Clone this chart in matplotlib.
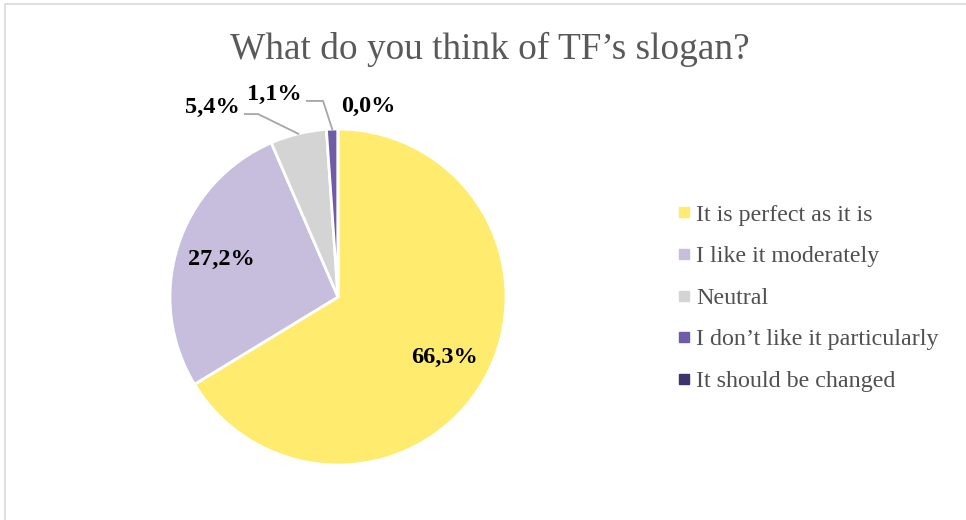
import numpy as np
import matplotlib
matplotlib.use("Agg")
from matplotlib import pyplot as plt
from matplotlib.lines import Line2D
from matplotlib.patches import Rectangle

categories = [
    "It is perfect as it is",
    "I like it moderately",
    "Neutral",
    "I don\u2019t like it particularly",
    "It should be changed",
]
shares = [66.3, 27.2, 5.4, 1.1, 0.0]
colors = ["#FFEC6E", "#C7BEDE", "#D4D4D4", "#6F5BA8", "#3E336E"]

plt.rcParams["font.family"] = ["Liberation Serif", "DejaVu Serif"]

fig = plt.figure(figsize=(9.66, 5.2), dpi=100)

# chart area frame
fig.patches.append(Rectangle((4.5 / 966, -0.1), 1.1, 1.1 - 4.5 / 520,
                             transform=fig.transFigure, fill=False,
                             edgecolor="#D9D9D9", linewidth=1.2))

fig.text(0.507, 0.905, "What do you think of TF\u2019s slogan?", ha="center",
         va="center", fontsize=26.8, color="#595959")

# pie area: centre (338, 297) px, radius 168 px
cx, cy, r = 338, 297, 168
ax = fig.add_axes([(cx - r) / 966, (520 - cy - r) / 520, 2 * r / 966, 2 * r / 520])
wedges, _ = ax.pie(shares, colors=colors, startangle=90, counterclock=False,
                   radius=1, wedgeprops=dict(edgecolor="white", linewidth=2))
ax.set_xlim(-1, 1)
ax.set_ylim(-1, 1)
ax.set_aspect("equal")
ax.axis("off")


def mid_angle(w):
    return np.deg2rad((w.theta1 + w.theta2) / 2)


def pct(v):
    return f"{v:.1f}%".replace(".", ",")


label_style = dict(fontsize=17.5, fontweight="bold", color="black",
                   ha="center", va="center", clip_on=False)

# inside labels for the two large slices
for i in (0, 1):
    a = mid_angle(wedges[i])
    ax.text(0.73 * np.cos(a), 0.73 * np.sin(a), pct(shares[i]), **label_style)

# outside labels with leader lines
outside = {
    2: ((-0.75, 1.131), (-0.554, -0.476, 1.089)),
    3: ((-0.38, 1.208), (-0.185, -0.089, 1.167)),
}
for i, (pos, (x0, x1, yl)) in outside.items():
    ax.text(pos[0], pos[1], pct(shares[i]), **label_style)
    a = mid_angle(wedges[i])
    ax.plot([x0, x1, np.cos(a)], [yl, yl, np.sin(a)], color="#A6A6A6",
            linewidth=1.3, clip_on=False)

ax.text(0.179, 1.137, pct(shares[4]), **label_style)

handles = [Line2D([], [], linestyle="none", marker="s", markersize=6.5,
                  markerfacecolor=c, markeredgecolor=c) for c in colors]
fig.legend(handles, categories, loc="center left",
           bbox_to_anchor=(666 / 966, 1 - 298 / 520), frameon=False,
           fontsize=17.3, labelcolor="#505050", handlelength=0.5,
           handletextpad=0.26, labelspacing=0.82, borderpad=0)

fig.savefig("out.png", dpi=100)
